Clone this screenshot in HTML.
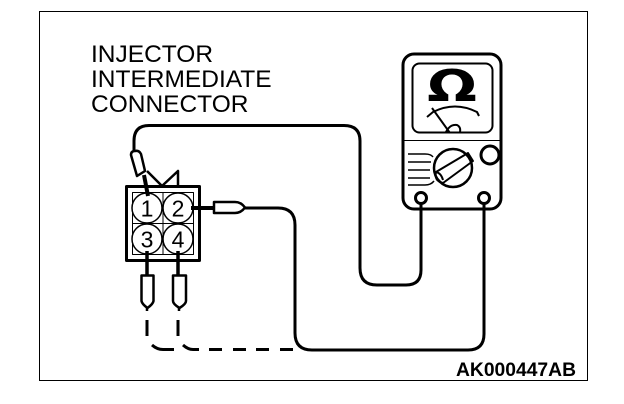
<!DOCTYPE html>
<html>
<head>
<meta charset="utf-8">
<style>
html,body{margin:0;padding:0;background:#fff;width:624px;height:404px;overflow:hidden}
svg{display:block}
text{font-family:"Liberation Sans",sans-serif;fill:#000}
</style>
</head>
<body>
<svg width="624" height="404" viewBox="0 0 624 404" xmlns="http://www.w3.org/2000/svg">
<rect x="39.5" y="11.5" width="548" height="369" fill="#fff" stroke="#000" stroke-width="1"/>
<text x="91" y="62" font-size="24.500">INJECTOR</text>
<text x="91" y="87" font-size="24.500">INTERMEDIATE</text>
<text x="91" y="112" font-size="24.500">CONNECTOR</text>
<text x="456" y="376" font-size="19" font-weight="bold" textLength="120" lengthAdjust="spacingAndGlyphs">AK000447AB</text>

<g fill="none" stroke="#000" stroke-linecap="butt" stroke-linejoin="round">
<!-- wires -->
<path d="M134 152 V141 Q134 125.500 149 125.500 H344 Q360 125.500 360 141 V268 Q360 285 377 285 H406 Q421 285 421 270 V204" stroke-width="3"/>
<path d="M484 204 V334 Q484 350 468 350 H312 Q295 350 295 333 V225 Q295 208 278 208 H244" stroke-width="3"/>
<!-- dashed lower wire -->
<path d="M147 320 V336 M178 320 V336" stroke-width="3"/>
<path d="M152 345 Q157 349.500 163 349.500 H174 M183 345 Q188 349.500 193 349.500 H199 M209 349.500 H222 M233 349.500 H246 M256 349.500 H269 M280 349.500 H293" stroke-width="3"/>

<!-- meter -->
<rect x="403" y="54" width="98" height="155" rx="11" stroke-width="3"/>
<rect x="412.500" y="63.500" width="80" height="69" rx="7" stroke-width="2"/>
<path d="M403 140.500 H501" stroke-width="1"/>
<path d="M427 117 L433 112 Q455 101 477 112 L479 116" stroke-width="2"/>
<path d="M432 108 L450 133" stroke-width="2"/>
<path d="M446 132 Q450 124 457 125 Q461 127 460 132" stroke-width="2"/>
<circle cx="453" cy="168" r="19" stroke-width="2.500"/>
<path d="M436 172 L468 153 L473 161 L443 183 Q434 181 436 172 Z" stroke-width="2"/>
<path d="M436 172 Q441 173 443 180" stroke-width="2"/>
<circle cx="490" cy="155" r="9" stroke-width="3"/>
<circle cx="421" cy="198" r="5.500" stroke-width="3"/>
<circle cx="484" cy="198" r="5.500" stroke-width="3"/>
<path d="M408 154 H425 Q431 154 433 157 M408 162 H431 M408 170 H430 M408 178 H430 M408 185 H425 Q431 185 434 181" stroke-width="1.500"/>

<!-- connector -->
<rect x="126.500" y="186.500" width="73" height="74" stroke-width="3"/>
<rect x="132.500" y="192.500" width="61" height="62" stroke-width="1"/>
<path d="M163 192 V255 M132 223.500 H194" stroke-width="1"/>
<path d="M147 171 L162 186 L178 171 V186" stroke-width="2.500"/>
<circle cx="147" cy="208" r="15" fill="#fff" stroke-width="1.500"/>
<circle cx="178" cy="208" r="15" fill="#fff" stroke-width="1.500"/>
<circle cx="147" cy="239" r="15" fill="#fff" stroke-width="1.500"/>
<circle cx="178" cy="239" r="15" fill="#fff" stroke-width="1.500"/>

<!-- probes -->
<path d="M144 175 L148 196" stroke-width="4"/>
<path d="M131 155 Q131 151 135 151 Q139 150 141 154 L145 171 L137 176 Z" fill="#fff" stroke-width="2.500"/>
<path d="M191 208 H214" stroke-width="4"/>
<path d="M214 202 H235 Q241 202 245 207.500 Q241 213 235 213 H214 Z" fill="#fff" stroke-width="2.500"/>
<path d="M147 251 V275 M178 251 V275" stroke-width="3.500"/>
<path d="M141.500 275.500 H153.500 V301 Q153 304 147.500 308 Q142 304 141.500 301 Z" fill="#fff" stroke-width="2.500"/>
<path d="M173 275.500 H186 V301 Q186 304 179.500 308 Q173 304 173 301 Z" fill="#fff" stroke-width="2.500"/>
<path d="M147 308 V311 M179 308 V311" stroke-width="2.500"/>
</g>

<text x="147" y="216.500" font-size="23" text-anchor="middle">1</text>
<text x="178" y="216.500" font-size="23" text-anchor="middle">2</text>
<text x="147" y="247.500" font-size="23" text-anchor="middle">3</text>
<text x="178" y="247.500" font-size="23" text-anchor="middle">4</text>

<!-- omega -->
<text transform="translate(452 101) scale(1.22 0.9)" x="0" y="0" font-size="48" font-weight="bold" text-anchor="middle" style='font-family:"DejaVu Sans","Liberation Sans",sans-serif'>Ω</text>
</svg>
</body>
</html>
